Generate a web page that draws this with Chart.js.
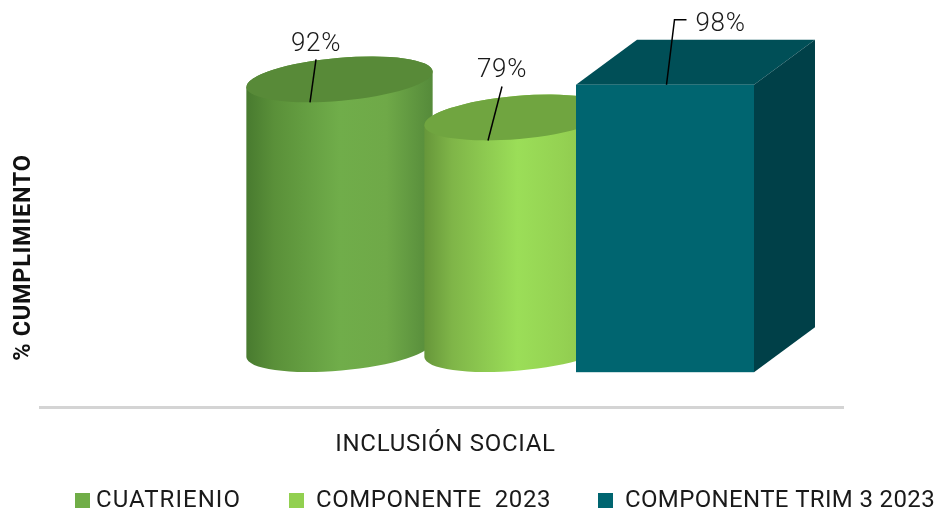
<!DOCTYPE html>
<html>
<head>
<meta charset="utf-8">
<style>
  html, body { margin: 0; padding: 0; background: #fff; }
  #wrap { width: 941px; height: 514px; }
</style>
<script src="https://cdn.jsdelivr.net/npm/chart.js@4"></script>
</head>
<body>
<div id="wrap"><canvas id="cumplimientoChart"></canvas></div>
<script>
const categories = ['INCLUSIÓN SOCIAL'];
const seriesNames = ['CUATRIENIO', 'COMPONENTE  2023', 'COMPONENTE TRIM 3 2023'];
const cuatrienio = [92];
const componente2023 = [79];
const componenteTrim = [98];

const legendColors = ['#70ad47', '#92d050', '#006570'];
const textFont = 'Roboto, sans-serif';

// the 3d look: bars sit behind the floor line and right of the category centre
const shiftX = 76;
const cylLift = 58, boxLift = 35;

const cylStyles = [
  { top: '#588a38', stops: ['#487a2f', '#5a9039', '#70ad4a', '#6fa948', '#558a3a'] },
  { top: '#70a540', stops: ['#66963a', '#7fb548', '#9bde58', '#94d152', '#88c04a'] }
];

function drawCylinder(ctx, bar, style) {
  const cx = bar.x + shiftX, rx = bar.width / 2 + 4.5, ry = 21.5, rot = -5 * Math.PI / 180;
  const topY = bar.y - cylLift, baseY = bar.base - cylLift;
  const g = ctx.createLinearGradient(cx - rx, 0, cx + rx, 0);
  [0, 0.15, 0.5, 0.75, 1].forEach((p, i) => g.addColorStop(p, style.stops[i]));
  ctx.fillStyle = g;
  ctx.beginPath();
  ctx.ellipse(cx, baseY, rx, ry, rot, 0, Math.PI, false);
  ctx.ellipse(cx, topY, rx, ry, rot, Math.PI, Math.PI * 2, false);
  ctx.closePath();
  ctx.fill();
  ctx.fillStyle = style.top;
  ctx.beginPath();
  ctx.ellipse(cx, topY, rx, ry, rot, 0, Math.PI * 2);
  ctx.fill();
}

function drawBox(ctx, bar) {
  const left = bar.x + shiftX - 119.5, right = left + bar.width;
  const topY = bar.y - boxLift, baseY = bar.base - boxLift;
  const dx = 61, dy = 45;
  ctx.fillStyle = '#004f57';
  ctx.beginPath();
  ctx.moveTo(left, topY);
  ctx.lineTo(left + dx, topY - dy);
  ctx.lineTo(right + dx, topY - dy);
  ctx.lineTo(right, topY);
  ctx.closePath();
  ctx.fill();
  ctx.fillStyle = '#004048';
  ctx.beginPath();
  ctx.moveTo(right, topY);
  ctx.lineTo(right + dx, topY - dy);
  ctx.lineTo(right + dx, baseY - dy);
  ctx.lineTo(right, baseY);
  ctx.closePath();
  ctx.fill();
  ctx.fillStyle = '#006570';
  ctx.fillRect(left, topY, bar.width, baseY - topY);
}

// leader lines and value labels, offsets from the top centre of each shape
const leaders = [
  { lift: cylLift, text: [-23.5, -35.3], line: [[-23.5, -20], [-29.5, 23]] },
  { lift: cylLift, text: [-15.5, -47.4], line: [[-15.5, -31], [-29.5, 23]] },
  { lift: boxLift, text: [55.5, -60], line: [[1.5, 0], [9.5, -65], [21.5, -65]] }
];

// legend places, the text widths of the original font are kept with letter spacing
const legendBoxX = [75, 289, 598];
const legendTextX = [96, 316, 625];
const legendTextW = [145, 235, 310];

const shapes3d = {
  id: 'shapes3d',
  beforeDraw(chart) {
    chart.ctx.letterSpacing = '0.7px';
  },
  beforeDatasetsDraw(chart) {
    const ctx = chart.ctx;
    const bars = chart.data.datasets.map((d, i) => chart.getDatasetMeta(i).data[0]);
    drawCylinder(ctx, bars[0], cylStyles[0]);
    drawCylinder(ctx, bars[1], cylStyles[1]);
    drawBox(ctx, bars[2]);

    ctx.save();
    ctx.strokeStyle = '#000';
    ctx.lineWidth = 1.5;
    ctx.fillStyle = '#1a1a1a';
    ctx.font = '300 26px ' + textFont;
    ctx.textAlign = 'center';
    ctx.textBaseline = 'middle';
    bars.forEach((bar, i) => {
      const l = leaders[i];
      const cx = i === 2 ? bar.x + shiftX - 30.5 : bar.x + shiftX;
      const cy = bar.y - l.lift;
      ctx.beginPath();
      l.line.forEach((p, j) => j ? ctx.lineTo(cx + p[0], cy + p[1]) : ctx.moveTo(cx + p[0], cy + p[1]));
      ctx.stroke();
      const v = chart.data.datasets[i].data[0];
      ctx.fillText(v + '%', cx + l.text[0], cy + l.text[1]);
    });
    ctx.restore();
    return false;
  },
  afterDraw(chart) {
    const ctx = chart.ctx;
    const items = Chart.defaults.plugins.legend.labels.generateLabels(chart);
    ctx.save();
    ctx.font = '24px ' + textFont;
    ctx.textBaseline = 'middle';
    items.forEach((item, i) => {
      ctx.fillStyle = item.fillStyle;
      ctx.fillRect(legendBoxX[i], 493, 15, 15);
      ctx.letterSpacing = '0px';
      const w = ctx.measureText(item.text).width;
      ctx.letterSpacing = (legendTextW[i] - w) / item.text.length + 'px';
      ctx.fillStyle = '#1a1a1a';
      ctx.fillText(item.text, legendTextX[i], 501);
    });
    ctx.restore();
    ctx.letterSpacing = '0px';
  }
};

new Chart(document.getElementById('cumplimientoChart'), {
  type: 'bar',
  data: {
    labels: categories,
    datasets: [
      { label: seriesNames[0], data: cuatrienio, backgroundColor: legendColors[0] },
      { label: seriesNames[1], data: componente2023, backgroundColor: legendColors[1] },
      { label: seriesNames[2], data: componenteTrim, backgroundColor: legendColors[2] }
    ]
  },
  plugins: [shapes3d],
  options: {
    responsive: true,
    maintainAspectRatio: false,
    animation: false,
    categoryPercentage: 0.665,
    barPercentage: 1,
    layout: { padding: { top: 108, left: 8, right: 98, bottom: 40 } },
    plugins: {
      tooltip: { enabled: false },
      legend: { display: false }
    },
    scales: {
      x: {
        grid: { display: false },
        border: { color: '#d4d4d4', width: 3 },
        ticks: { color: '#1a1a1a', padding: 15, labelOffset: 4, font: { family: textFont, size: 24 } }
      },
      y: {
        min: 0,
        max: 102,
        afterFit(scale) { scale.width = 32; },
        grid: { display: false },
        border: { display: false },
        ticks: { display: false },
        title: {
          display: true,
          text: '% CUMPLIMIENTO',
          color: '#111',
          padding: { top: 2.5, bottom: 0 },
          font: { family: textFont, size: 23.5, weight: 'bold' }
        }
      }
    }
  }
});
</script>
</body>
</html>
